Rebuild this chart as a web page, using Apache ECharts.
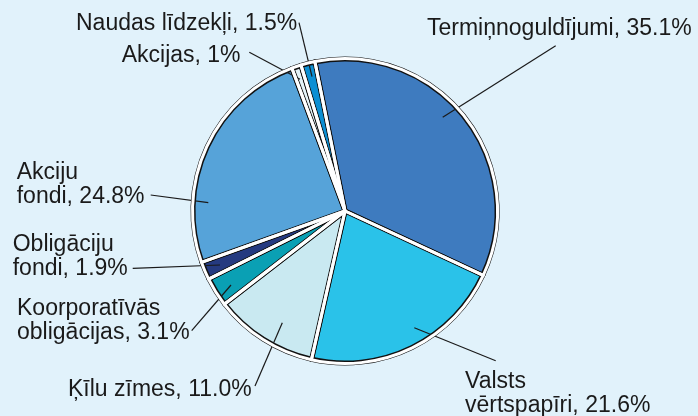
<!DOCTYPE html>
<html>
<head>
<meta charset="utf-8">
<script src="https://cdn.jsdelivr.net/npm/echarts@6/dist/echarts.min.js"></script>
<style>
html, body { margin: 0; padding: 0; background: #e1f2fb; }
#chart { width: 698px; height: 416px; }
</style>
</head>
<body>
<div id="chart"></div>
<script>
var categories = ['Termiņnoguldījumi', 'Valsts\nvērtspapīri', 'Ķīlu zīmes', 'Koorporatīvās\nobligācijas',
    'Obligāciju\nfondi', 'Akciju\nfondi', 'Akcijas', 'Naudas līdzekļi'];
var shares = [35.1, 21.6, 11.0, 3.1, 1.9, 24.8, 1, 1.5];
var shareLabels = ['35.1', '21.6', '11.0', '3.1', '1.9', '24.8', '1', '1.5'];
var colors = ['#3e7bbf', '#2ac2e9', '#c9e9f1', '#0aa0b4', '#253a80', '#56a3d9', '#e4f3f8', '#0c8fd3'];

// label placement: top-left of text block and leader line (inside slice -> label)
var labelPlaces = [
    {x: 427, y: 16.5, line: [[442.7, 117.3], [555.7, 45.7]]},
    {x: 465, y: 370, line: [[414.3, 327.7], [495.7, 360.7]]},
    {x: 68, y: 378, line: [[282.3, 322.7], [255, 386]]},
    {x: 17, y: 297, line: [[231, 285], [191.7, 330.7]]},
    {x: 12.7, y: 233, line: [[220, 265], [132.7, 268.3]]},
    {x: 16.7, y: 161, line: [[208.3, 202.7], [150.7, 195]]},
    {x: 121.7, y: 44, line: [[300, 79.3], [249.3, 52.3]]},
    {x: 76, y: 11.7, line: [[312, 76.7], [299, 22.7]]}
];

var chart = echarts.init(document.getElementById('chart'));

var slices = categories.map(function (name, i) {
    return {name: name, value: shares[i], itemStyle: {color: colors[i]}};
});

chart.setOption({
    backgroundColor: '#e1f2fb',
    animation: false,
    series: [
        {
            // filled slices with a wide black outline
            type: 'pie',
            z: 1,
            center: [345, 211],
            radius: 152,
            startAngle: 101.4,
            silent: true,
            label: {show: false},
            labelLine: {show: false},
            itemStyle: {borderColor: '#111', borderWidth: 5},
            data: slices
        },
        {
            // white gaps between slices, labels
            type: 'pie',
            z: 3,
            center: [345, 211],
            radius: 152.5,
            startAngle: 101.4,
            silent: true,
            avoidLabelOverlap: false,
            itemStyle: {color: 'rgba(0,0,0,0)', borderColor: '#fff', borderWidth: 3},
            label: {
                show: true,
                position: 'outside',
                fontFamily: 'Liberation Sans',
                fontSize: 23,
                lineHeight: 23.5,
                color: '#1a1a1a',
                align: 'left',
                formatter: function (p) {
                    return p.name + ', ' + shareLabels[p.dataIndex] + '%';
                }
            },
            labelLine: {show: true, lineStyle: {color: '#1a1a1a', width: 1.2}},
            labelLayout: function (p) {
                var pl = labelPlaces[p.dataIndex];
                return {
                    x: pl.x,
                    y: pl.y,
                    align: 'left',
                    verticalAlign: 'top',
                    labelLinePoints: pl.line
                };
            },
            data: categories.map(function (name, i) {
                return {name: name, value: shares[i]};
            })
        }
    ]
});
</script>
</body>
</html>
